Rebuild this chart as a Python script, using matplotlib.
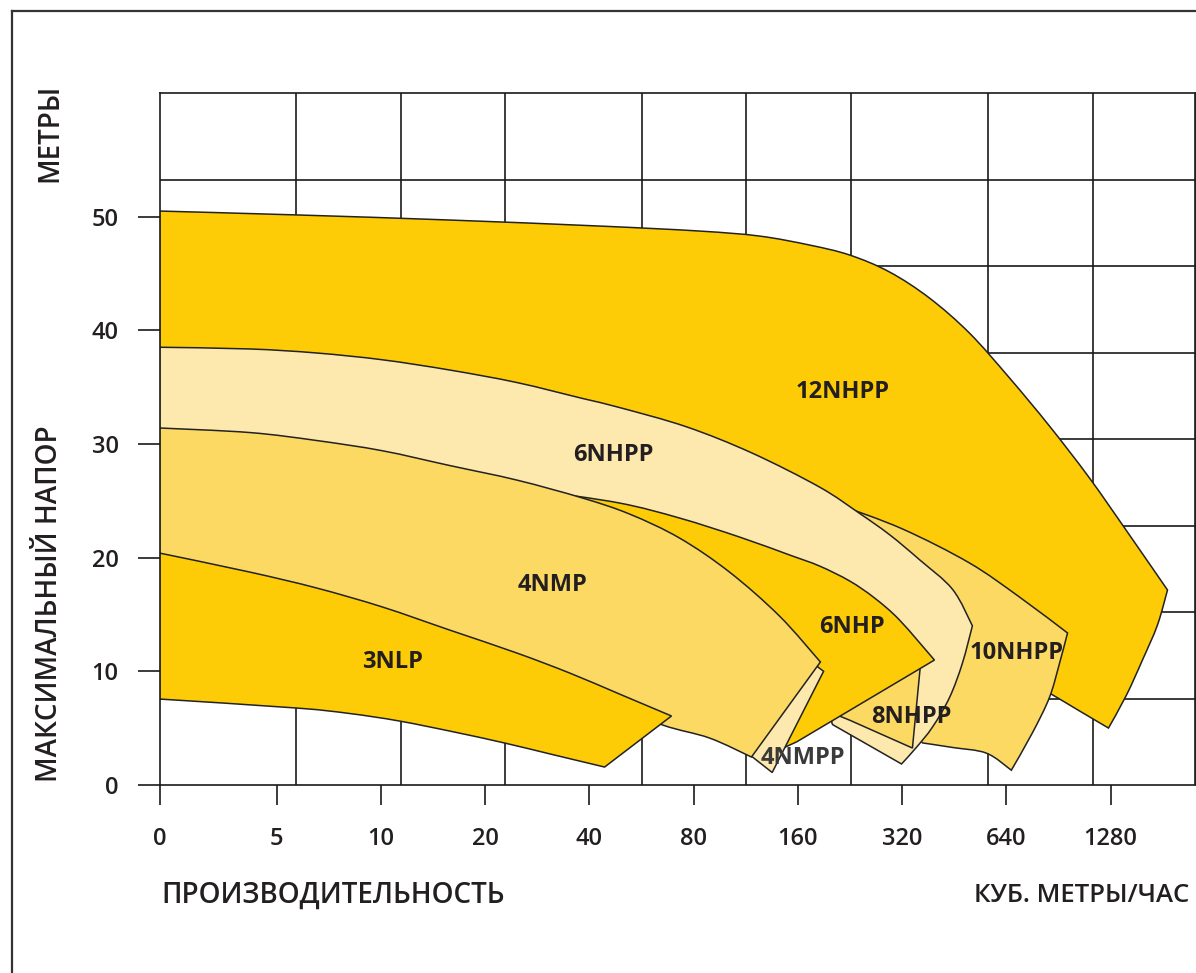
import numpy as np
import matplotlib
matplotlib.use('Agg')
import matplotlib.pyplot as plt
from matplotlib.patches import PathPatch
from matplotlib.path import Path
from matplotlib.lines import Line2D

plt.rcParams['font.family'] = ['Open Sans', 'DejaVu Sans']

# ---------------- data (flow m3/h, head m) ----------------
X_TICKS = [0, 5, 10, 20, 40, 80, 160, 320, 640, 1280]
Y_TICKS = [0, 10, 20, 30, 40, 50]

P12NHPP_FLOW = [0, 5.83, 15.8, 42.8, 83.3, 124, 173, 226, 294.5, 384, 501, 654, 853, 1113, 1452, 1870,
                1749, 1583, 1424, 1263,
                1042, 853, 612, 411, 276, 162, 83.3, 42.8, 22.0, 11.3, 5.83, 0]
P12NHPP_HEAD = [50.48, 50.13, 49.69, 49.16, 48.72, 48.28, 47.49, 46.61, 45.12, 42.83, 39.75, 35.80, 31.57, 27.00, 21.99, 17.15,
                14.07, 10.99, 7.92, 5.01,
                6.51, 8.09, 10.64, 13.81, 16.97, 20.84, 24.89, 28.06, 30.34, 32.01, 33.07, 33.86]
P12NHPP_CORNERS = [0, 15, 19, 31]

P10NHPP_FLOW = [211, 321, 501, 699, 962, 912, 853, 762, 662, 561, 448, 367, 276, 226]
P10NHPP_HEAD = [24.63, 22.52, 19.53, 16.53, 13.37, 10.7, 7.7, 4.6, 1.3, 2.8, 3.3, 3.7, 7.5, 19.8]
P10NHPP_CORNERS = [0, 4, 8, 11, 12, 13]

P6NHPP_FLOW = [0, 3.85, 6.5, 10.1, 15.8, 24.7, 38.2, 48.9, 76.4, 118, 185, 241, 295, 360, 448, 511,
               478, 439, 392, 352, 319,
               202, 179, 83, 43, 11.3, 0]
P6NHPP_HEAD = [38.5, 38.35, 38.0, 37.4, 36.5, 35.4, 34.0, 33.2, 31.5, 29.2, 26.2, 23.9, 22.0, 19.8, 17.2, 14.0,
               10.7, 7.7, 5.1, 3.3, 1.85,
               5.3, 7.0, 11.9, 16.3, 21.5, 25.1]
P6NHPP_CORNERS = [0, 15, 20, 21, 26]

P8NHPP_FLOW = [364, 343, 226, 162, 162, 276]
P8NHPP_HEAD = [11.4, 3.25, 5.7, 7.5, 16.3, 15.0]
P8NHPP_CORNERS = [0, 1, 2, 3, 4, 5]

P6NHP_FLOW = [28.7, 48.9, 72.9, 108.6, 151.5, 184.9, 226, 266.5, 314.7, 397, 159, 137, 83, 28.7]
P6NHP_HEAD = [25.86, 24.80, 23.48, 21.81, 20.23, 19.26, 17.94, 16.45, 14.51, 10.99, 3.8, 2.9, 7.5, 19.8]
P6NHP_CORNERS = [0, 9, 10, 11, 12, 13]

P4NMPP_FLOW = [83, 151, 190, 135, 118, 83]
P4NMPP_HEAD = [14.1, 12.3, 10.0, 1.1, 2.5, 5.5]
P4NMPP_CORNERS = [0, 1, 2, 3, 4, 5]

P4NMP_FLOW = [0, 3.85, 6.52, 10.1, 15.8, 24.7, 38.25, 52.3, 72.9, 101.6, 141.7, 186,
              117.6, 89.0, 65.1, 42.8, 22.8, 11.3, 5.83, 0]
P4NMP_HEAD = [31.4, 31.0, 30.3, 29.4, 28.1, 26.82, 25.24, 23.83, 21.72, 18.73, 14.86, 10.82,
              2.46, 4.13, 5.28, 7.48, 10.29, 13.81, 16.97, 19.35]
P4NMP_CORNERS = [0, 11, 12, 19]

P3NLP_FLOW = [0, 3.85, 6.52, 10.1, 15.8, 24.7, 35.1, 48.9, 69.1,
              44.3, 31.7, 22.8, 16.3, 11.3, 8.12, 5.71, 0]
P3NLP_HEAD = [20.40, 18.73, 17.33, 15.66, 13.63, 11.61, 9.85, 8.00, 6.07,
              1.58, 2.64, 3.69, 4.66, 5.63, 6.29, 6.77, 7.56]
P3NLP_CORNERS = [0, 8, 9, 16]

LABELS = ['12NHPP', '6NHPP', '4NMP', '3NLP', '6NHP', '10NHPP', '8NHPP', '4NMPP']
LABEL_FLOW = [215, 47, 31.3, 10.8, 229, 685, 341, 166]
LABEL_HEAD = [34.6, 29.0, 17.6, 10.8, 13.9, 11.6, 6.0, 2.4]

# ---------------- styling ----------------
W, H = 1196, 973
DARK = '#fdcc06'
MID = '#fcd963'
PALE = '#fde8ae'
EDGE = '#222222'
INK = '#231f20'
GRIDC = '#1a1a1a'

fig = plt.figure(figsize=(W / 100, H / 100), dpi=100)

K = 117 / 104.25


def fwd(q):
    q = np.asarray(q, dtype=float)
    qs = np.maximum(q, 1e-12)
    return np.where(q < 5, q / 5 * K, K + np.log2(qs / 5))


def inv(u):
    u = np.asarray(u, dtype=float)
    return np.where(u < K, u / K * 5, 5 * np.exp2(u - K))


def outline_path(flow, head, corners):
    """Closed outline: smooth Bezier (Catmull-Rom) between corners, built in scale space."""
    P = np.column_stack([fwd(flow), np.asarray(head, dtype=float)])
    n = len(P)
    cs = sorted(corners) + [n]
    verts = [P[0]]
    codes = [Path.MOVETO]
    for a, b in zip(cs[:-1], cs[1:]):
        seg = P[[i % n for i in range(a, b + 1)]]
        m = len(seg)
        for i in range(m - 1):
            p0 = seg[i - 1] if i > 0 else seg[i]
            p1 = seg[i]
            p2 = seg[i + 1]
            p3 = seg[i + 2] if i + 2 < m else seg[i + 1]
            c1 = p1 + (p2 - p0) / 6.0
            c2 = p2 - (p3 - p1) / 6.0
            verts += [c1, c2, p2]
            codes += [Path.CURVE4] * 3
    verts.append(P[0])
    codes.append(Path.CLOSEPOLY)
    V = np.array(verts)
    V[:, 0] = inv(V[:, 0])
    return Path(V, codes)


left_px, right_px, top_px, bot_px = 159.5, 1196, 93, 785
ax = fig.add_axes([left_px / W, (H - bot_px) / H, (right_px - left_px) / W, (bot_px - top_px) / H])
ax.set_xscale('function', functions=(fwd, inv))
u_right = (right_px - left_px) / 104.25
ax.set_xlim(0, float(inv(u_right)))
ax.set_ylim(0, (bot_px - top_px) / 11.37)

# grid (decorative, independent of ticks)
grid_x = [0.1317, 0.2330, 0.3333, 0.4655, 0.5658, 0.6671, 0.7993, 0.9006, 0.9995]
for gx in grid_x:
    ax.plot([gx, gx], [0, 1], transform=ax.transAxes, color=GRIDC, lw=1.2, zorder=1, solid_capstyle='butt')
for k in range(1, 8):
    ax.plot([0, 1], [k / 8, k / 8], transform=ax.transAxes, color=GRIDC, lw=1.2, zorder=1, solid_capstyle='butt')

shapes = [
    (P12NHPP_FLOW, P12NHPP_HEAD, P12NHPP_CORNERS, DARK),
    (P10NHPP_FLOW, P10NHPP_HEAD, P10NHPP_CORNERS, MID),
    (P6NHPP_FLOW, P6NHPP_HEAD, P6NHPP_CORNERS, PALE),
    (P8NHPP_FLOW, P8NHPP_HEAD, P8NHPP_CORNERS, MID),
    (P6NHP_FLOW, P6NHP_HEAD, P6NHP_CORNERS, DARK),
    (P4NMPP_FLOW, P4NMPP_HEAD, P4NMPP_CORNERS, PALE),
    (P4NMP_FLOW, P4NMP_HEAD, P4NMP_CORNERS, MID),
    (P3NLP_FLOW, P3NLP_HEAD, P3NLP_CORNERS, DARK),
]
for i, (fq, hh, cr, col) in enumerate(shapes):
    patch = PathPatch(outline_path(fq, hh, cr), facecolor=col, edgecolor=EDGE,
                      linewidth=1.1, joinstyle='miter', zorder=3 + i)
    ax.add_patch(patch)

for lab, fq, hh in zip(LABELS, LABEL_FLOW, LABEL_HEAD):
    ax.text(fq, hh, lab, ha='center', va='center', fontsize=17, fontweight='bold',
            color='#3a3a3a' if lab == '4NMPP' else INK, zorder=30)

for s in ax.spines.values():
    s.set_color(GRIDC)
    s.set_linewidth(1.2)
    s.set_zorder(25)

ax.set_xticks(X_TICKS)
ax.set_xticklabels([str(v) for v in X_TICKS])
ax.set_yticks(Y_TICKS)
ax.set_yticklabels([str(v) for v in Y_TICKS])
ax.minorticks_off()
ax.tick_params(axis='x', direction='out', length=14.4, width=1.2, color=GRIDC, pad=16,
               labelsize=17, labelcolor=INK)
ax.tick_params(axis='y', direction='out', length=15.5, width=1.2, color=GRIDC, pad=14,
               labelsize=17, labelcolor=INK)
for t in ax.get_xticklabels() + ax.get_yticklabels():
    t.set_fontweight('semibold')

# axis titles
fig.text(50 / W, 1 - 133 / H, 'МЕТРЫ', rotation=90, ha='center', va='center',
         fontsize=20, fontweight='semibold', color=INK)
fig.text(50 / W, 1 - 604 / H, 'МАКСИМАЛЬНЫЙ НАПОР', rotation=90, ha='center', va='center',
         fontsize=20, fontweight='semibold', color=INK)
fig.text(161 / W, 1 - 895 / H, 'ПРОИЗВОДИТЕЛЬНОСТЬ', ha='left', va='center',
         fontsize=20, fontweight='semibold', color=INK)
fig.text(974 / W, 1 - 895 / H, 'КУБ. МЕТРЫ/ЧАС', ha='left', va='center',
         fontsize=18.5, fontweight='semibold', color=INK)

# outer frame (left and top edges visible)
fig.add_artist(Line2D([12 / W, 12 / W], [0, 1 - 11 / H], transform=fig.transFigure,
                      color='#333333', lw=1.6))
fig.add_artist(Line2D([12 / W, 1], [1 - 11 / H, 1 - 11 / H], transform=fig.transFigure,
                      color='#333333', lw=1.6))

fig.savefig('out.png', dpi=100)
